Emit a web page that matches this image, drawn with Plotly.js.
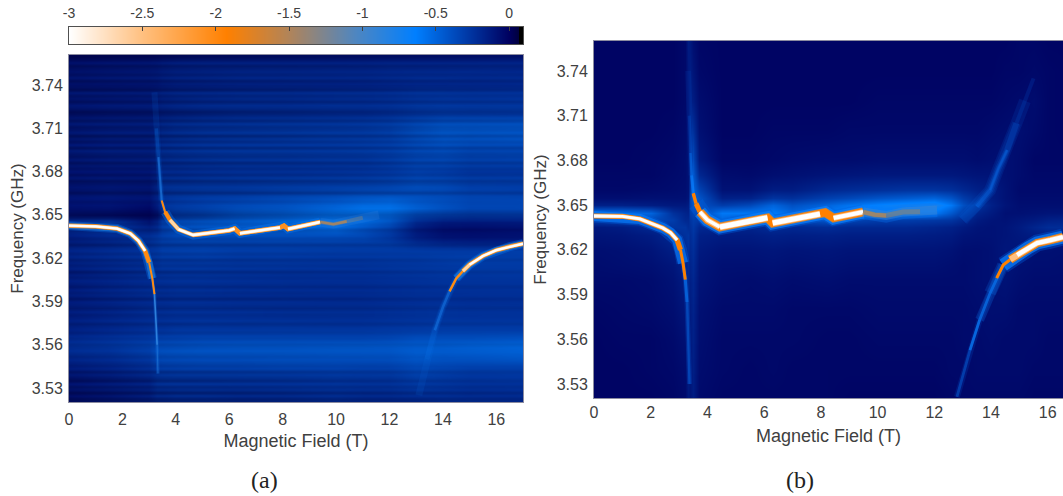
<!DOCTYPE html>
<html><head><meta charset="utf-8">
<script src="https://cdn.plot.ly/plotly-3.0.1.min.js"></script>
<style>html,body{margin:0;padding:0;background:#fff;overflow:hidden}</style>
</head><body><div id="chart" style="width:1063px;height:496px"></div>
<script>
const xA=[0,1.5,3,3.3,3.5,4,5,6.3,8,10,11,12,13,14,15,17];
const yA=[3.52,3.525,3.53,3.535,3.54,3.545,3.55,3.555,3.56,3.565,3.57,3.575,3.58,3.585,3.59,3.595,3.6,3.605,3.61,3.615,3.62,3.625,3.63,3.635,3.64,3.645,3.65,3.655,3.66,3.665,3.67,3.675,3.68,3.685,3.69,3.695,3.7,3.705,3.71,3.715,3.72,3.725,3.73,3.735,3.74,3.745,3.75,3.755,3.76];
const zA=[
[-.10,-.14,-.18,-.22,-.22,-.24,-.24,-.22,-.22,-.24,-.22,-.22,-.22,-.24,-.24,-.22],
[-.08,-.12,-.18,-.24,-.24,-.26,-.26,-.24,-.24,-.26,-.24,-.24,-.26,-.26,-.24,-.24],
[-.12,-.16,-.2,-.26,-.26,-.27,-.27,-.26,-.27,-.28,-.27,-.27,-.3,-.28,-.26,-.26],
[-.1,-.15,-.2,-.27,-.28,-.28,-.28,-.28,-.28,-.29,-.28,-.28,-.32,-.3,-.28,-.28],
[-.14,-.18,-.24,-.29,-.3,-.31,-.31,-.31,-.31,-.32,-.31,-.31,-.36,-.33,-.3,-.3],
[-.16,-.2,-.26,-.33,-.34,-.35,-.36,-.36,-.37,-.37,-.36,-.36,-.4,-.38,-.36,-.36],
[-.2,-.24,-.3,-.38,-.39,-.4,-.41,-.41,-.42,-.42,-.42,-.42,-.46,-.44,-.44,-.46],
[-.24,-.27,-.34,-.42,-.43,-.44,-.45,-.45,-.45,-.46,-.46,-.46,-.5,-.49,-.5,-.52],
[-.26,-.3,-.36,-.42,-.42,-.43,-.45,-.46,-.46,-.47,-.47,-.48,-.5,-.5,-.52,-.54],
[-.22,-.26,-.3,-.34,-.34,-.35,-.37,-.37,-.37,-.37,-.37,-.38,-.42,-.42,-.42,-.44],
[-.18,-.22,-.26,-.28,-.28,-.3,-.3,-.3,-.3,-.3,-.3,-.31,-.32,-.33,-.33,-.33],
[-.19,-.22,-.26,-.27,-.27,-.28,-.29,-.28,-.28,-.27,-.27,-.28,-.29,-.3,-.3,-.3],
[-.16,-.2,-.24,-.25,-.25,-.26,-.26,-.26,-.25,-.25,-.25,-.26,-.27,-.28,-.27,-.27],
[-.17,-.2,-.25,-.26,-.26,-.27,-.27,-.26,-.25,-.25,-.25,-.26,-.27,-.28,-.27,-.27],
[-.15,-.19,-.23,-.24,-.24,-.25,-.25,-.24,-.24,-.23,-.23,-.24,-.25,-.26,-.25,-.25],
[-.17,-.21,-.25,-.25,-.25,-.26,-.26,-.25,-.24,-.24,-.24,-.25,-.26,-.26,-.26,-.26],
[-.15,-.2,-.24,-.25,-.25,-.26,-.26,-.25,-.25,-.24,-.24,-.25,-.26,-.27,-.27,-.27],
[-.17,-.2,-.24,-.26,-.26,-.27,-.27,-.26,-.25,-.25,-.25,-.26,-.27,-.28,-.28,-.28],
[-.16,-.21,-.26,-.27,-.28,-.29,-.29,-.28,-.27,-.27,-.27,-.28,-.29,-.3,-.3,-.3],
[-.18,-.22,-.26,-.28,-.3,-.3,-.3,-.29,-.29,-.28,-.28,-.29,-.3,-.31,-.32,-.32],
[-.2,-.24,-.28,-.3,-.32,-.32,-.33,-.31,-.31,-.3,-.3,-.31,-.31,-.33,-.34,-.33],
[-.2,-.24,-.28,-.3,-.33,-.34,-.35,-.33,-.33,-.32,-.32,-.32,-.32,-.32,-.32,-.34],
[-.18,-.22,-.28,-.32,-.35,-.36,-.37,-.36,-.36,-.35,-.34,-.33,-.26,-.22,-.2,-.2],
[-.16,-.22,-.26,-.3,-.34,-.38,-.4,-.4,-.41,-.4,-.38,-.3,-.16,-.1,-.09,-.1],
[-.22,-.28,-.2,-.24,-.34,-.42,-.46,-.48,-.5,-.56,-.44,-.34,-.14,-.07,-.06,-.08],
[-.28,-.32,-.12,-.2,-.34,-.42,-.46,-.5,-.56,-.66,-.58,-.46,-.22,-.14,-.13,-.14],
[-.1,-.08,-.03,-.1,-.28,-.36,-.4,-.5,-.56,-.66,-.66,-.6,-.42,-.36,-.32,-.32],
[-.09,-.1,-.05,-.14,-.28,-.32,-.36,-.42,-.46,-.56,-.62,-.62,-.52,-.44,-.38,-.38],
[-.11,-.12,-.1,-.18,-.28,-.3,-.33,-.36,-.4,-.46,-.5,-.52,-.46,-.42,-.38,-.38],
[-.12,-.14,-.12,-.2,-.28,-.3,-.32,-.33,-.36,-.39,-.41,-.42,-.42,-.4,-.36,-.34],
[-.11,-.13,-.12,-.2,-.28,-.29,-.3,-.31,-.33,-.35,-.36,-.38,-.42,-.4,-.34,-.33],
[-.13,-.15,-.14,-.2,-.27,-.28,-.3,-.31,-.32,-.33,-.34,-.36,-.4,-.38,-.34,-.33],
[-.1,-.11,-.12,-.17,-.23,-.23,-.25,-.26,-.26,-.27,-.28,-.3,-.34,-.32,-.28,-.28],
[-.14,-.16,-.16,-.2,-.25,-.26,-.28,-.29,-.29,-.3,-.3,-.33,-.38,-.38,-.34,-.34],
[-.13,-.16,-.17,-.2,-.25,-.27,-.29,-.3,-.3,-.31,-.31,-.34,-.39,-.4,-.36,-.36],
[-.15,-.18,-.18,-.21,-.26,-.28,-.3,-.31,-.31,-.32,-.33,-.35,-.4,-.42,-.38,-.38],
[-.12,-.15,-.16,-.2,-.24,-.26,-.28,-.29,-.3,-.31,-.32,-.34,-.4,-.44,-.42,-.42],
[-.15,-.18,-.18,-.2,-.25,-.27,-.29,-.3,-.31,-.33,-.33,-.35,-.42,-.47,-.45,-.46],
[-.13,-.16,-.17,-.2,-.23,-.26,-.28,-.29,-.3,-.31,-.32,-.35,-.42,-.47,-.46,-.46],
[-.15,-.17,-.18,-.2,-.23,-.25,-.27,-.28,-.29,-.3,-.31,-.33,-.38,-.42,-.42,-.42],
[-.11,-.13,-.14,-.16,-.18,-.2,-.22,-.24,-.24,-.25,-.25,-.27,-.3,-.32,-.31,-.3],
[-.13,-.15,-.16,-.18,-.2,-.22,-.24,-.25,-.25,-.26,-.26,-.27,-.3,-.31,-.3,-.3],
[-.12,-.14,-.15,-.17,-.19,-.21,-.23,-.24,-.24,-.25,-.25,-.26,-.28,-.29,-.28,-.28],
[-.14,-.15,-.16,-.18,-.2,-.22,-.23,-.24,-.24,-.25,-.25,-.26,-.28,-.28,-.27,-.27],
[-.1,-.11,-.12,-.13,-.15,-.17,-.18,-.19,-.19,-.19,-.19,-.2,-.21,-.21,-.21,-.21],
[-.12,-.14,-.15,-.16,-.18,-.2,-.21,-.22,-.22,-.22,-.22,-.23,-.24,-.24,-.23,-.23],
[-.11,-.13,-.14,-.15,-.17,-.19,-.2,-.21,-.21,-.21,-.21,-.22,-.22,-.22,-.22,-.21],
[-.1,-.12,-.13,-.14,-.16,-.18,-.19,-.19,-.19,-.19,-.19,-.2,-.2,-.2,-.2,-.2],
[-.05,-.06,-.06,-.07,-.08,-.09,-.1,-.1,-.1,-.1,-.1,-.1,-.1,-.1,-.1,-.1]
];
/* fine horizontal scan lines of panel (a), one level per row, at the left and right edge */
const stripeLeft=[.5,.6,.2,.7,.3,.5,.1,.6,.4,.2,.5,.1,.3,.2,.1,.3,.2,.1,.2,.3,.1,.2,.1,.3,.1,.2,.4,.1,.2,.3,.1,.4,.2,.1,.5,.2,.3,.1,.4,.2,.1,.3,.2,.5,.1,.3,.2,.4,.1,.3,.1,.2,.5,.2,.3,.1,.2,.4,.1,.3,.2,.5,.6,.4,.2,.1,.3,.1,.2,.6,.3,.2,.4,.6,.2,.5,.1,.4,.3,.6,.2,.5,.4,.2,.6,.1,.5,.3,.7,.2,.4,.5,.2,.6,.3,.5,.7,.4,.2,.6,.3,.5,.2,.7,.4,.3,.6,.2,.5,.3,.4,.6,.2,.5,.7];
const stripeRight=[.2,.3,.1,.3,.1,.2,.1,.2,.1,.1,.2,.1,.1,.1,.1,.1,.1,.1,.1,.2,.1,.1,.1,.1,.1,.1,.2,.1,.1,.1,.1,.2,.1,.1,.2,.1,.1,.1,.2,.1,.1,.1,.1,.2,.1,.1,.1,.2,.1,.1,.1,.1,.2,.1,.1,.1,.1,.2,.1,.1,.1,.2,.3,.2,.1,.1,.1,.1,.1,.3,.1,.1,.2,.3,.1,.2,.1,.2,.1,.3,.1,.2,.2,.1,.3,.1,.2,.1,.3,.1,.2,.2,.1,.3,.1,.2,.3,.2,.1,.3,.1,.2,.1,.3,.2,.1,.3,.1,.2,.1,.2,.3,.1,.2,.3];
const stripeEdges=[0,17];
const xB=[0,1,2,2.8,3.2,3.3,3.4,3.5,3.7,4.5,5.5,6.3,7,8.2,9,10,11,12,12.6,13,13.5,14,14.5,15,15.5,16,17];
const yB=[3.52,3.54,3.56,3.58,3.6,3.61,3.62,3.63,3.635,3.64,3.645,3.65,3.655,3.66,3.67,3.68,3.7,3.72,3.74,3.76];
const zB=[
[-.02,-.02,-.02,-.03,-.05,-.12,-.1,-.14,-.05,-.03,-.03,-.03,-.03,-.03,-.02,-.02,-.02,-.02,-.03,-.04,-.04,-.04,-.04,-.04,-.03,-.03,-.03],
[-.02,-.02,-.03,-.04,-.06,-.14,-.12,-.15,-.06,-.04,-.03,-.04,-.03,-.03,-.03,-.03,-.03,-.03,-.04,-.04,-.05,-.05,-.05,-.05,-.04,-.04,-.04],
[-.02,-.03,-.03,-.05,-.08,-.16,-.13,-.16,-.07,-.04,-.04,-.04,-.04,-.03,-.03,-.04,-.04,-.04,-.04,-.05,-.05,-.06,-.05,-.05,-.05,-.04,-.04],
[-.03,-.04,-.05,-.07,-.11,-.18,-.14,-.17,-.08,-.05,-.05,-.05,-.04,-.04,-.04,-.05,-.05,-.05,-.05,-.05,-.06,-.07,-.07,-.05,-.05,-.05,-.05],
[-.05,-.05,-.06,-.09,-.14,-.2,-.16,-.19,-.1,-.07,-.06,-.07,-.06,-.07,-.06,-.06,-.06,-.06,-.06,-.06,-.07,-.08,-.09,-.07,-.06,-.06,-.06],
[-.06,-.07,-.08,-.11,-.17,-.22,-.18,-.21,-.11,-.08,-.08,-.09,-.08,-.09,-.08,-.08,-.08,-.08,-.07,-.06,-.07,-.08,-.1,-.08,-.07,-.07,-.06],
[-.07,-.08,-.1,-.15,-.2,-.24,-.2,-.23,-.13,-.1,-.1,-.11,-.1,-.11,-.1,-.1,-.1,-.1,-.09,-.07,-.07,-.08,-.11,-.1,-.08,-.08,-.07],
[-.1,-.11,-.14,-.2,-.24,-.26,-.22,-.26,-.16,-.14,-.14,-.16,-.15,-.16,-.15,-.15,-.15,-.14,-.13,-.1,-.09,-.09,-.1,-.12,-.14,-.15,-.14],
[-.12,-.14,-.2,-.26,-.26,-.22,-.24,-.28,-.2,-.2,-.18,-.22,-.2,-.22,-.2,-.2,-.2,-.18,-.16,-.13,-.1,-.09,-.1,-.13,-.18,-.22,-.22],
[-.3,-.32,-.36,-.3,-.2,-.2,-.26,-.3,-.28,-.5,-.34,-.42,-.34,-.42,-.34,-.3,-.3,-.28,-.26,-.2,-.13,-.1,-.09,-.11,-.13,-.16,-.18],
[-.56,-.56,-.5,-.24,-.18,-.17,-.3,-.34,-.32,-.6,-.6,-.62,-.52,-.62,-.66,-.64,-.62,-.6,-.44,-.3,-.18,-.13,-.08,-.08,-.09,-.1,-.1],
[-.16,-.16,-.14,-.12,-.12,-.14,-.34,-.44,-.4,-.3,-.36,-.5,-.4,-.5,-.58,-.66,-.72,-.76,-.6,-.4,-.26,-.16,-.1,-.07,-.07,-.07,-.07],
[-.07,-.07,-.08,-.08,-.08,-.1,-.34,-.5,-.42,-.16,-.17,-.26,-.24,-.32,-.36,-.42,-.46,-.5,-.42,-.3,-.22,-.14,-.09,-.06,-.06,-.06,-.06],
[-.04,-.04,-.05,-.06,-.07,-.09,-.3,-.5,-.34,-.09,-.09,-.14,-.14,-.2,-.22,-.24,-.26,-.26,-.24,-.2,-.16,-.14,-.09,-.05,-.05,-.05,-.05],
[-.03,-.03,-.03,-.05,-.06,-.09,-.26,-.44,-.2,-.06,-.05,-.07,-.08,-.1,-.11,-.12,-.12,-.12,-.12,-.11,-.1,-.1,-.08,-.06,-.04,-.04,-.04],
[-.02,-.02,-.03,-.04,-.06,-.09,-.24,-.36,-.12,-.03,-.03,-.04,-.05,-.06,-.06,-.07,-.07,-.07,-.07,-.07,-.06,-.07,-.08,-.06,-.03,-.03,-.03],
[-.02,-.02,-.02,-.03,-.05,-.09,-.2,-.24,-.08,-.02,-.02,-.03,-.03,-.03,-.04,-.04,-.04,-.04,-.04,-.04,-.04,-.05,-.06,-.07,-.05,-.03,-.02],
[-.02,-.02,-.02,-.02,-.04,-.1,-.16,-.14,-.06,-.02,-.02,-.02,-.02,-.02,-.02,-.03,-.03,-.03,-.03,-.03,-.03,-.03,-.04,-.05,-.06,-.03,-.02],
[-.02,-.02,-.02,-.02,-.04,-.12,-.14,-.1,-.04,-.02,-.02,-.02,-.02,-.02,-.02,-.02,-.02,-.02,-.02,-.02,-.02,-.02,-.03,-.03,-.04,-.03,-.02],
[-.02,-.02,-.02,-.02,-.04,-.14,-.12,-.07,-.03,-.02,-.02,-.02,-.02,-.02,-.02,-.02,-.02,-.02,-.02,-.02,-.02,-.02,-.02,-.03,-.03,-.02,-.02]
];
const scaleLevels=[-3,-2.5,-1.93,-1.5,-1.05,-.64,0,.06,.07,.095];
const scaleColors=['#ffffff','#ffc080','#ff8000','#b0845a','#4f86c0','#007fff','#00005f','#000040','#000000','#000000'];
const cMin=-3,cMax=.095;

/* ridge centre lines: field (T), frequency (GHz) */
const aLeftX=[0,1,1.8,2.3,2.6,2.85,3.0,3.12,3.2,3.26,3.3,3.33];
const aLeftF=[3.6425,3.642,3.6405,3.637,3.632,3.625,3.617,3.606,3.595,3.575,3.56,3.54];
const aMidX=[3.2,3.27,3.35,3.41,3.47,3.6,3.78,4.1,4.65,6.0,6.2,6.4,7.9,8.05,8.2,9.4,9.9,10.4,11,11.6];
const aMidF=[3.735,3.71,3.69,3.672,3.66,3.652,3.6465,3.64,3.636,3.6392,3.6405,3.6372,3.6412,3.6425,3.6402,3.645,3.6435,3.6455,3.648,3.65];
const aRightX=[13.1,13.4,13.7,14,14.25,14.5,14.75,15,15.5,16,16.5,17];
const aRightF=[3.525,3.55,3.57,3.586,3.597,3.606,3.611,3.6155,3.6215,3.6255,3.628,3.63];

const bLeftX=[0,1,1.62,2.43,2.7,2.93,3.05,3.14,3.22,3.28,3.33,3.37];
const bLeftF=[3.6427,3.6425,3.6407,3.6346,3.6315,3.6266,3.62,3.6111,3.6,3.585,3.56,3.53];
const bMidX=[3.32,3.36,3.4,3.44,3.5,3.6,3.74,4.0,4.44,5.96,6.12,6.3,7.97,8.15,8.45,9.49,9.9,10.3,10.9,11.5,12.1];
const bMidF=[3.74,3.71,3.685,3.67,3.658,3.651,3.6454,3.64,3.6353,3.6407,3.6415,3.638,3.644,3.645,3.6413,3.6454,3.6435,3.643,3.6454,3.6455,3.6467];
const bRightX=[12.8,13.26,13.6,13.97,14.2,14.43,14.68,14.92,15.3,15.63,16.1,16.54];
const bRightF=[3.5213,3.5527,3.573,3.591,3.601,3.6098,3.6135,3.6165,3.6212,3.6246,3.6265,3.6286];
const bUpX=[13,13.5,13.97,14.25,14.57,14.9,15.2,15.5];
const bUpF=[3.64,3.649,3.66,3.674,3.687,3.705,3.72,3.735];

const fieldTicks=[0,2,4,6,8,10,12,14,16];
const freqTicks=[3.53,3.56,3.59,3.62,3.65,3.68,3.71,3.74];
const scaleTicks=[-3,-2.5,-2,-1.5,-1,-.5,0];
const scaleLabels=['-3','-2.5','-2','-1.5','-1','-0.5','0'];

const stops=scaleLevels.map((v,i)=>[(v-cMin)/(cMax-cMin),scaleColors[i]]);
const traces=[
 {type:'heatmap',x:xA,y:yA,z:zA,zsmooth:'best',coloraxis:'coloraxis',xaxis:'x',yaxis:'y',hoverinfo:'skip'},
 {type:'heatmap',x:stripeEdges,y0:3.5203,dy:.0021,z:stripeLeft.map((l,i)=>[l,stripeRight[i]]),zsmooth:'best',zmin:0,zmax:1,showscale:false,colorscale:[[0,'rgba(0,0,50,0)'],[1,'rgba(0,0,50,.8)']],xaxis:'x',yaxis:'y',hoverinfo:'skip'},
 {type:'heatmap',x:xB,y:yB,z:zB,zsmooth:'best',coloraxis:'coloraxis',xaxis:'x2',yaxis:'y2',hoverinfo:'skip'},
 {type:'heatmap',x:scaleLevels,y:[0,1],z:[scaleLevels,scaleLevels],zsmooth:'best',coloraxis:'coloraxis',xaxis:'x3',yaxis:'y3',hoverinfo:'skip'}
];
/* each layer: colour, width, opacity, first index, last index (in the ridge arrays) */
function ridge(x,f,ax,ay,layers){
 layers.forEach(l=>traces.push({type:'scatter',mode:'lines',x:x.slice(l[3],l[4]+1),y:f.slice(l[3],l[4]+1),xaxis:ax,yaxis:ay,hoverinfo:'skip',showlegend:false,
  line:{color:l[0],width:l[1],shape:'linear'},opacity:l[2]}));
}
ridge(aLeftX,aLeftF,'x','y',[
 ['#0a78f0',3.5,.25,6,11],['#3a90e8',1.6,.8,7,10],['#3a90e8',1.2,.35,10,11],
 ['#0a78f0',9,.35,0,7],['#2080e0',6.6,.6,0,7],['#c8843e',4.6,1,0,6],['#ff8a10',3.8,1,0,6],['#ff8a10',2,1,6,8],['#ffd8a8',3,1,0,5],['#ffffff',2.3,1,0,5]]);
ridge(aMidX,aMidF,'x','y',[
 ['#0a78f0',6,.12,0,4],['#0a78f0',3.5,.25,1,5],['#2a8af0',2,.5,2,5],
 ['#0a78f0',9,.4,5,15],['#c8843e',4.4,1,5,15],['#ff8a10',2,1,4,6],['#ff8a10',3.2,1,5,8],
 ['#ff9020',4.6,1,8,15],['#ffd8a8',3.4,1,6,10],['#ffffff',2.4,1,7,10],['#ffd8a8',3.4,1,11,12],['#ffffff',2.6,1,11,12],['#ffd8a8',3.4,1,14,15],['#ffffff',2.6,1,14,15]]);
ridge(aMidX,aMidF,'x','y',[['#3a86e0',9,.2,15,19],['#8a8478',4,.4,15,18],['#e08a30',2.6,.6,15,17]]);
ridge(aRightX,aRightF,'x','y',[
 ['#0a70e8',7,.12,0,5],['#0a70e8',5,.2,1,5],['#1a80f0',2.6,.45,2,6],
 ['#0a78f0',9,.35,5,11],['#2080e0',6.6,.6,5,11],['#c8843e',4.6,1,6,11],['#ff8a10',2.4,1,4,6],['#ff8a10',3.8,1,6,11],['#ffd8a8',3,1,6,11],['#ffffff',2.3,1,7,11]]);

ridge(bLeftX,bLeftF,'x2','y2',[
 ['#0a70f0',5,.2,7,11],['#0a80ff',3,.6,7,9],['#0a80ff',2.4,.3,9,11],
 ['#0060e0',13,.35,0,7],['#0a80ff',10,.6,0,7],['#ff8000',5.2,1,0,6],['#ff8000',3,1,6,8],['#ffc080',3.8,1,0,5],['#ffffff',2.8,1,0,5]]);
ridge(bMidX,bMidF,'x2','y2',[
 ['#0a70f0',6,.1,0,3],['#0a70f0',3,.2,1,4],['#0a80ff',2.4,.35,2,4],['#0a80ff',3,.5,3,5],
 ['#0060e0',16,.35,5,15],['#0a80ff',13,.7,6,15],['#ff8000',3.4,1,4,5],['#ff8000',5,1,5,6],['#a88460',9,1,6,15],['#ff8000',7.6,1,6,15],
 ['#ffc080',5.4,1,6,8],['#ffffff',3.4,1,6,8],['#ffc080',6.6,1,8,10],['#ffffff',5.2,1,8,10],['#ffc080',6.6,1,11,12],['#ffffff',5.2,1,11,12],['#ffc080',5.6,1,14,15],['#ffffff',4,1,14,15]]);
ridge(bMidX,bMidF,'x2','y2',[['#0a7cf8',14,.3,15,20],['#4a88c8',9,.4,15,20],['#a0845c',5,.5,15,19],['#d08a40',4,.55,15,17]]);
ridge(bUpX,bUpF,'x2','y2',[['#0a70f0',12,.12,0,6],['#0a70f0',9,.12,0,5],['#0a78f8',6,.18,1,5],['#0a78f8',3.5,.25,1,4],['#0a78f8',2,.25,2,4],['#0a70f0',4,.15,5,7]]);
ridge(bRightX,bRightF,'x2','y2',[
 ['#0a70f0',6,.15,0,5],['#0a80ff',2.8,.35,0,2],['#0a80ff',2.8,.6,1,5],['#0a78f0',9,.25,2,5],['#0a78f0',12,.2,3,5],
 ['#0060e0',17,.35,5,11],['#0a80ff',13,.7,5,11],['#ff8000',3,1,4,6],['#a88460',8.6,1,6,11],['#ff8000',7.4,1,6,11],['#ffc080',5.8,1,6,11],['#ffffff',4.4,1,7,11]]);

const W=1063,H=496;
const fam='"Liberation Sans",Arial,sans-serif';
const font={family:fam,size:16,color:'#404040'};
const axisBase={showgrid:false,zeroline:false,showline:true,mirror:true,linecolor:'#8c8ca0',linewidth:1,ticks:'',tickfont:font,ticklabelstandoff:2};
const xTitleOf=s=>({text:'Magnetic Field (T)',font:{family:fam,size:18,color:'#404040'},standoff:s});
const yTitleOf=s=>({text:'Frequency (GHz)',font:{family:fam,size:17,color:'#404040'},standoff:s});
const layout={
 width:W,height:H,margin:{l:0,r:0,t:0,b:0},paper_bgcolor:'#fff',plot_bgcolor:'#00006a',showlegend:false,
 coloraxis:{cmin:cMin,cmax:cMax,colorscale:stops,showscale:false},
 xaxis:Object.assign({},axisBase,{domain:[69/W,523/W],range:[0,17],tickvals:fieldTicks,ticklabelstandoff:3,title:xTitleOf(7),anchor:'y'}),
 yaxis:Object.assign({},axisBase,{domain:[1-402/H,1-55/H],range:[3.5203,3.7608],tickvals:freqTicks,ticktext:freqTicks.map(v=>v.toFixed(2)),title:yTitleOf(3),anchor:'x'}),
 xaxis2:Object.assign({},axisBase,{domain:[594/W,1],range:[0,16.54],tickvals:fieldTicks,ticklabelstandoff:0,title:xTitleOf(9),anchor:'y2'}),
 yaxis2:Object.assign({},axisBase,{domain:[1-398/H,1-41/H],range:[3.5206,3.7601],tickvals:freqTicks,ticktext:freqTicks.map(v=>v.toFixed(2)),title:yTitleOf(5),anchor:'x2'}),
 xaxis3:{domain:[69/W,523/W],range:[cMin,cMax],side:'top',anchor:'y3',showgrid:false,zeroline:false,showline:true,mirror:true,linecolor:'#505050',linewidth:1,ticks:'inside',ticklen:4,tickcolor:'#404040',tickvals:scaleTicks,ticktext:scaleLabels,ticklabelstandoff:2,tickfont:{family:fam,size:14,color:'#404040'}},
 yaxis3:{domain:[1-44/H,1-27/H],range:[0,1],anchor:'x3',showgrid:false,zeroline:false,showline:true,mirror:true,linecolor:'#505050',linewidth:1,ticks:'',showticklabels:false},
 annotations:[
  {text:'(a)',xref:'paper',yref:'paper',x:264/W,y:1-480/H,xanchor:'center',yanchor:'middle',showarrow:false,font:{family:'"Liberation Serif",serif',size:24,color:'#222'}},
  {text:'(b)',xref:'paper',yref:'paper',x:800/W,y:1-480/H,xanchor:'center',yanchor:'middle',showarrow:false,font:{family:'"Liberation Serif",serif',size:24,color:'#222'}}
 ]
};
Plotly.newPlot('chart',traces,layout,{displayModeBar:false,staticPlot:true});
</script></body></html>
